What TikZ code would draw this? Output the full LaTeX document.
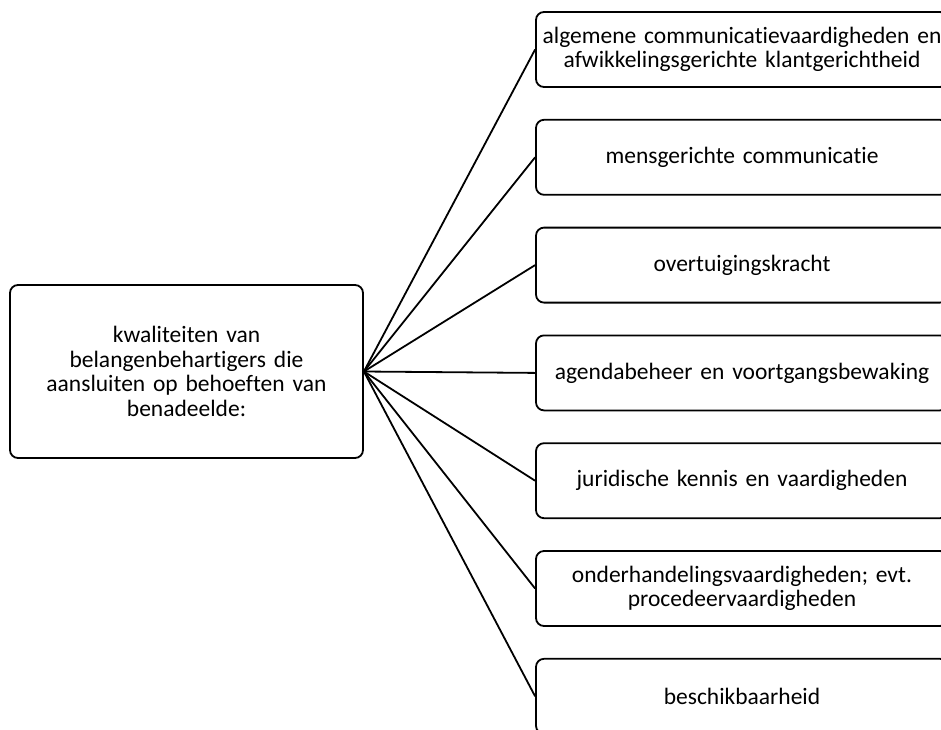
\documentclass[tikz,border=0pt]{standalone}
\usepackage{fontspec}
\setmainfont{Carlito}[Ligatures=NoCommon]
\begin{document}
\begin{tikzpicture}[x=1pt,y=-1pt,
	blok/.style={draw, line width=1.8pt, rounded corners=8pt, align=center,
		font=\fontsize{23.5}{24.5}\selectfont},
	kwal/.style={blok, minimum width=412pt, minimum height=75pt, text width=402pt}]
	
	\useasboundingbox (0,0) rectangle (941,729);
	\clip (0,0) rectangle (941,729);
	
	% hoofdblok
	\node[blok, minimum width=353pt, minimum height=173pt, text width=330pt] (hoofd) at (186.5,371.5)
	{kwaliteiten van\\ belangenbehartigers die\\ aansluiten op behoeften van\\ benadeelde:};
	
	% kwaliteiten
	\foreach \tekst [count=\i] in {
		{algemene communicatievaardigheden en\\ afwikkelingsgerichte klantgerichtheid},
		{mensgerichte communicatie},
		{overtuigingskracht},
		{agendabeheer en voortgangsbewaking},
		{juridische kennis en vaardigheden},
		{onderhandelingsvaardigheden; evt.\\ procedeervaardigheden},
		{beschikbaarheid}} {
		\node[kwal] (k\i) at (742,{49.5+107.8*(\i-1)}) {\tekst};
		\draw[line width=1.8pt] (hoofd.east) -- (k\i.west);
	}
	
\end{tikzpicture}
\end{document}
